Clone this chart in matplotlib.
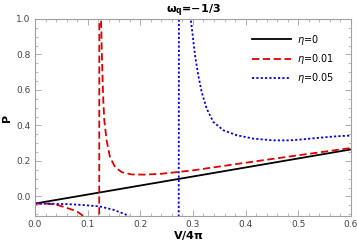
import numpy as np
import matplotlib.pyplot as plt
from matplotlib.ticker import MultipleLocator

# eta = 0 (straight line)
v0 = [0.0, 0.6]
p0 = [-0.04, 0.265]

# eta = 0.01 (left branch, jump at the pole, right branch)
v1 = [0.0, 0.028, 0.045, 0.06, 0.072, 0.082, 0.092, 0.1, 0.1215,
      0.1225, 0.1255, 0.127, 0.1285, 0.1297, 0.1316, 0.136, 0.1424, 0.152,
      0.1646, 0.1835, 0.2088, 0.2405, 0.2658, 0.3, 0.4, 0.5, 0.6]
p1 = [-0.04, -0.041, -0.05, -0.064, -0.076, -0.089, -0.111, -0.14, -3.0,
      3.0, 1.0, 0.8, 0.65, 0.542, 0.429, 0.316, 0.222, 0.166,
      0.137, 0.124, 0.123, 0.128, 0.136, 0.147, 0.19, 0.232, 0.273]

# eta = 0.05
v2 = [0.0, 0.03, 0.06, 0.09, 0.123, 0.149, 0.171, 0.177, 0.19, 0.272,
      0.274, 0.29, 0.2956, 0.2994, 0.3038, 0.31, 0.3165, 0.326, 0.3386,
      0.3576, 0.383, 0.4145, 0.452, 0.484, 0.509, 0.541, 0.573, 0.6]
p2 = [-0.04, -0.041, -0.043, -0.048, -0.056, -0.075, -0.10, -0.11, -0.14, -3.0,
      3.0, 1.3, 1.004, 0.91, 0.797, 0.684, 0.589, 0.495, 0.42,
      0.373, 0.345, 0.326, 0.316, 0.316, 0.322, 0.331, 0.339, 0.343]

fig = plt.figure(figsize=(3.57, 2.46), dpi=100)
ax = fig.add_axes([0.098, 0.122, 0.885, 0.801])

ax.plot(v0, p0, color='black', lw=1.3, label=r'$\eta$=0')
ax.plot(v1, p1, color='#e00000', lw=1.3, ls=(0, (4, 2)), label=r'$\eta$=0.01')
ax.plot(v2, p2, color='#0000e0', lw=1.3, ls=(0, (1.2, 1.2)), label=r'$\eta$=0.05')

ax.set_xlim(0, 0.6)
ax.set_ylim(-0.11, 1.0)
ax.xaxis.set_minor_locator(MultipleLocator(0.02))
ax.yaxis.set_minor_locator(MultipleLocator(0.05))
ax.set_xticks([0.0, 0.1, 0.2, 0.3, 0.4, 0.5, 0.6])
ax.set_xticklabels(['0.0', '0.1', '0.2', '0.3', '0.4', '0.5', '0.6'])
ax.set_yticks([0.0, 0.2, 0.4, 0.6, 0.8, 1.0])
ax.set_yticklabels(['0.0', '0.2', '0.4', '0.6', '0.8', '1.0'])

for s in ax.spines.values():
    s.set_color('#a0a0a0')
    s.set_linewidth(0.8)
ax.tick_params(which='both', direction='in', top=True, right=True,
               color='#a0a0a0', labelsize=6.5, labelcolor='#444444', pad=3)
ax.tick_params(which='major', length=4, width=0.6)
ax.tick_params(which='minor', length=2, width=0.5)

ax.set_title(r'$\mathbf{\omega_q}$=−1/3', fontsize=8, fontweight='bold', pad=3)
ax.set_xlabel(r'V/4$\mathbf{\pi}$', fontsize=8, fontweight='bold')
ax.xaxis.set_label_coords(0.485, -0.065)
ax.set_ylabel('P', fontsize=8, fontweight='bold', labelpad=3)

ax.legend(loc='upper left', frameon=False, fontsize=7, handlelength=4.0,
          handletextpad=0.6, bbox_to_anchor=(0.66, 0.975), labelspacing=0.55)

fig.savefig('out.png', dpi=100)
